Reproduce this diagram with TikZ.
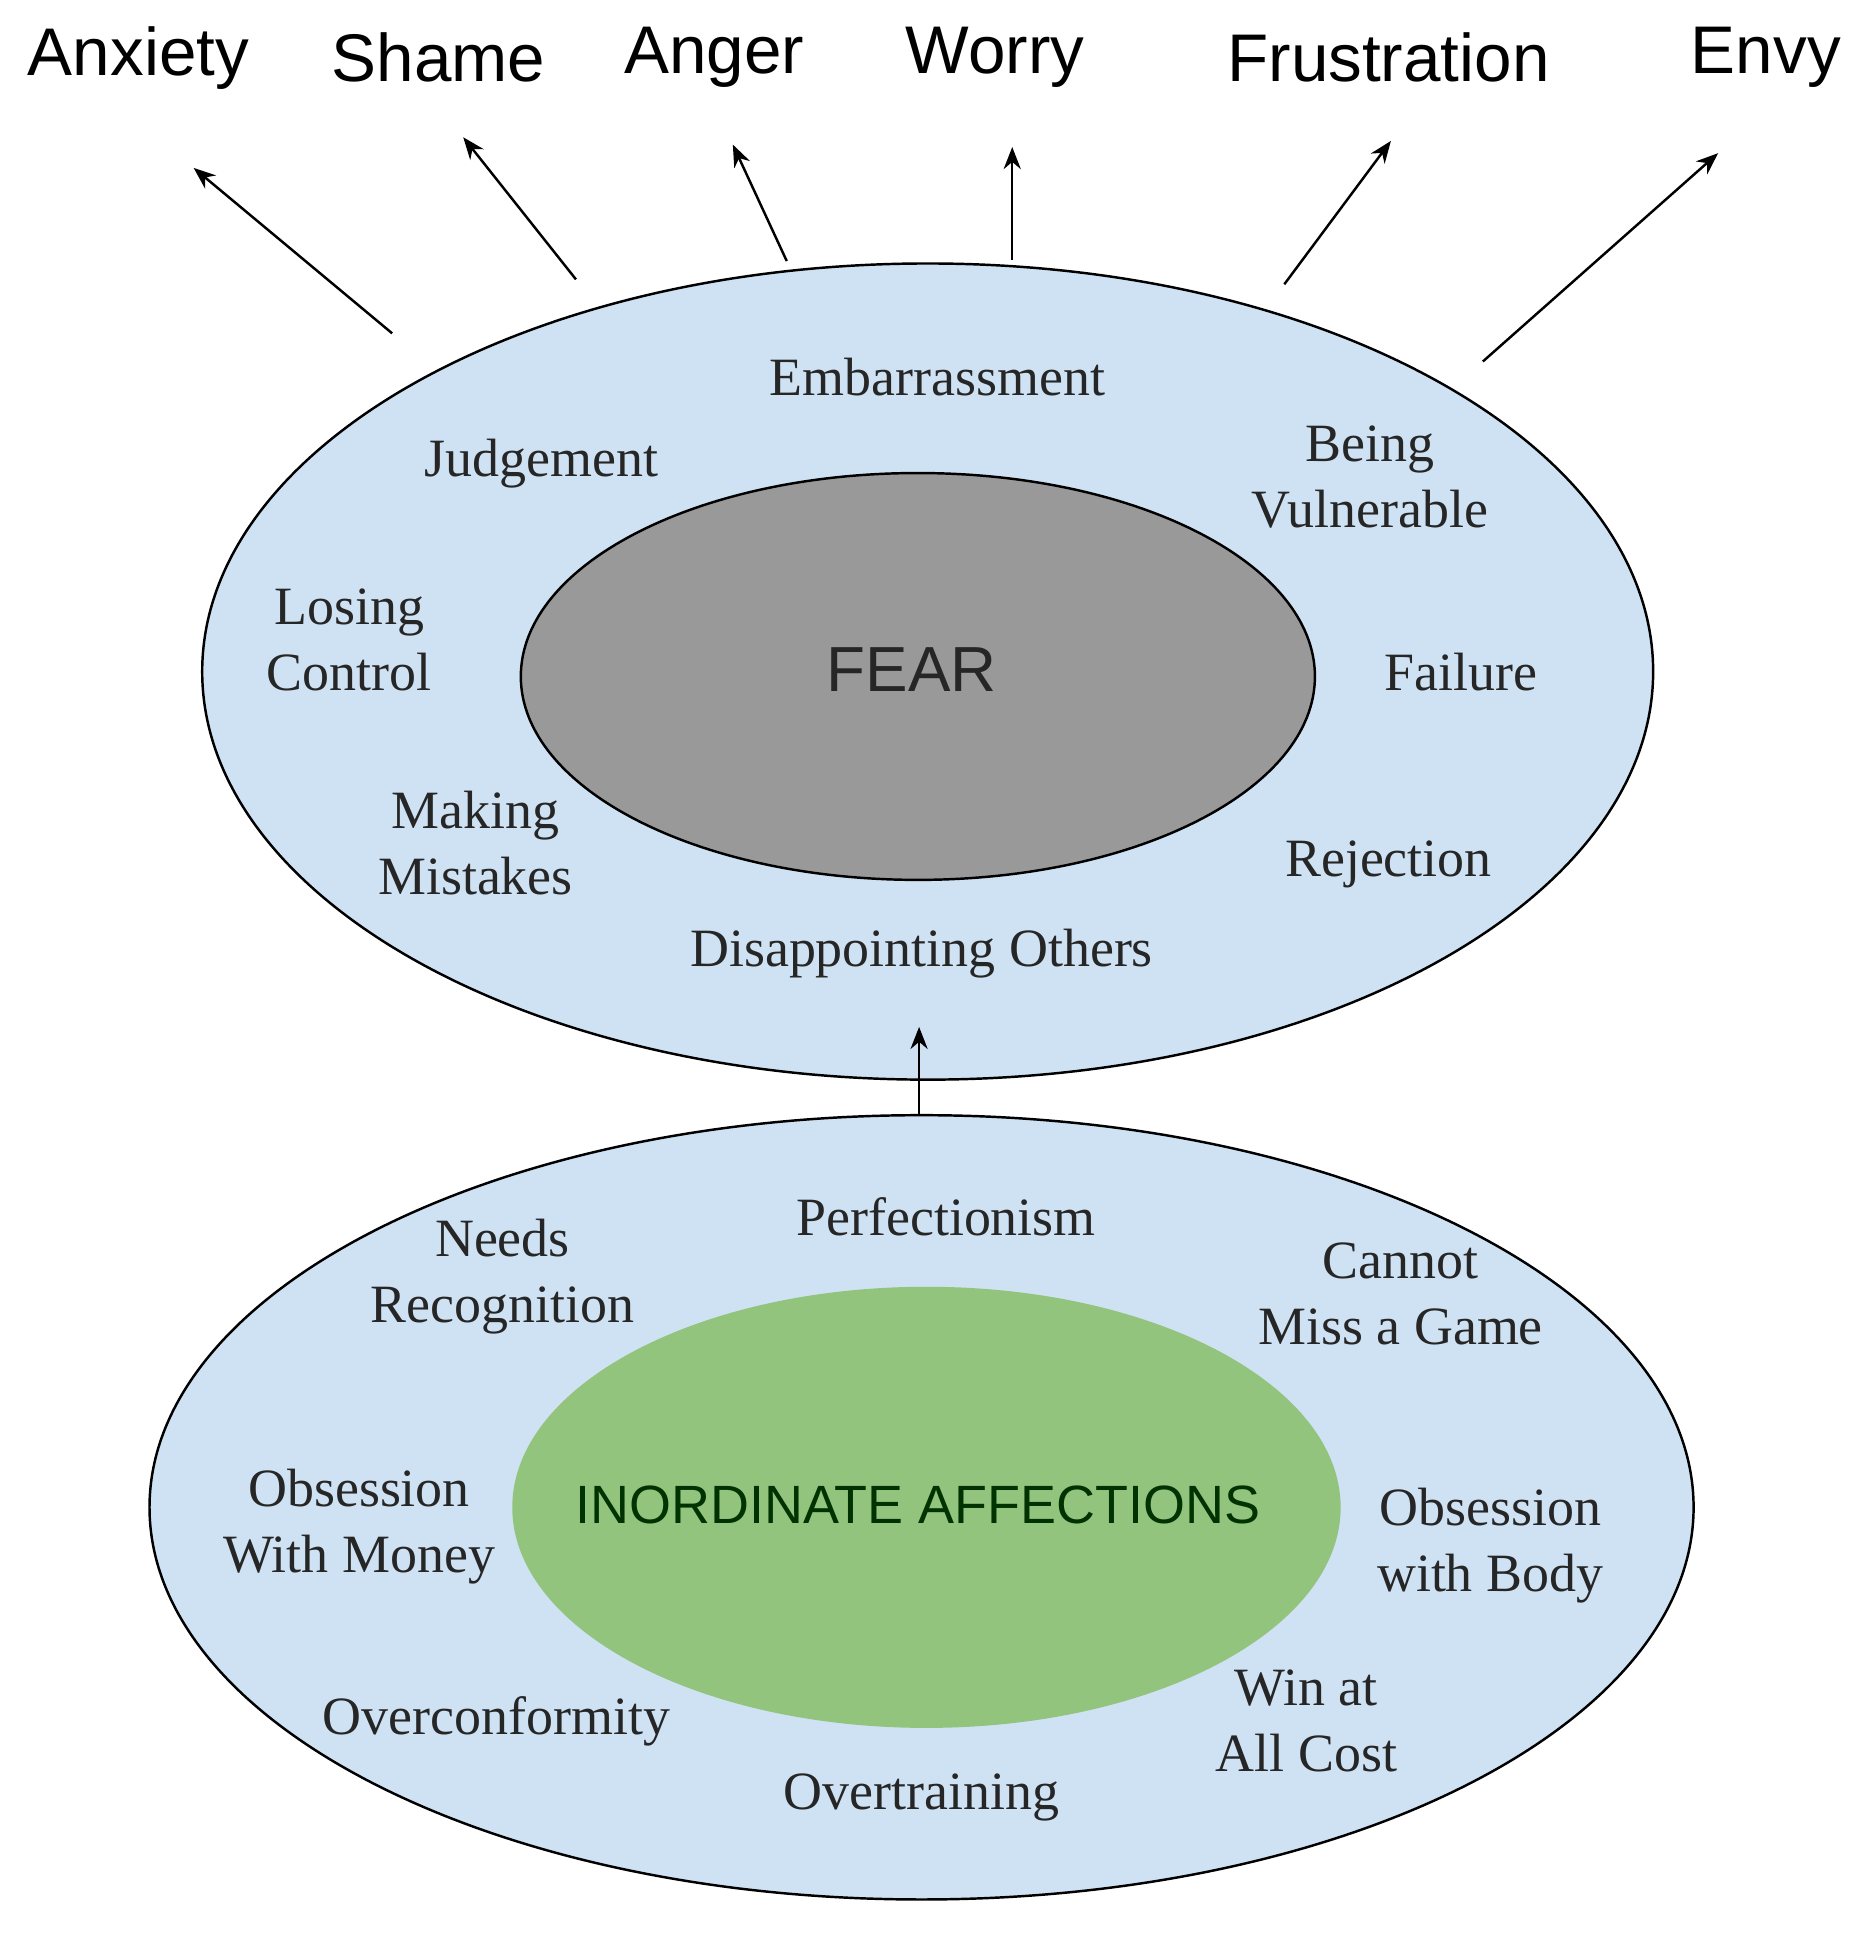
\documentclass[tikz,border=0pt]{standalone}
\usepackage{fontspec}
\setmainfont{Liberation Serif}
\newfontfamily\sansf{Liberation Sans}
\definecolor{lblue}{HTML}{CFE2F3}
\definecolor{fgray}{HTML}{999999}
\definecolor{fgreen}{HTML}{93C47D}
\begin{document}
\begin{tikzpicture}[x=0.5pt,y=-0.5pt,
  ell/.style={draw=black,line width=1pt},
  it/.style={font=\fontsize{22}{27}\selectfont,align=center,text=black!85},
  top/.style={font=\sansf\fontsize{27.5}{32}\selectfont},
  arr/.style={-{Stealth[length=9pt,width=7pt]},line width=1pt}]
\useasboundingbox (0,0) rectangle (1530,1579);
\fill[white] (0,0) rectangle (1530,1579);
\usetikzlibrary{arrows.meta}
\draw[ell,fill=lblue] (757,548) ellipse [x radius=592,y radius=333];
\draw[ell,fill=fgray] (749,552) ellipse [x radius=324,y radius=166];
\draw[ell,fill=lblue] (752,1230) ellipse [x radius=630,y radius=320];
\fill[fgreen] (756,1230) ellipse [x radius=338,y radius=180];
\node[font=\sansf\fontsize{26}{30}\selectfont,text=black!85] (fear) at (744,546) {FEAR};
\node[font=\sansf\fontsize{22}{26}\selectfont,text=black!80!green] (ia) at (749,1228) {INORDINATE AFFECTIONS};
\node[it] (t1) at (765,308) {Embarrassment};
\node[it] (t2) at (442,378) {Judgement};
\node[it] (t3) at (1118,389) {Being\\Vulnerable};
\node[it] (t4) at (285,522) {Losing\\Control};
\node[it] (t5) at (1192,548) {Failure};
\node[it] (t6) at (388,688) {Making\\Mistakes};
\node[it] (t7) at (1133,705) {Rejection};
\node[it] (t8) at (752,778) {Disappointing Others};
\node[it] (b1) at (772,993) {Perfectionism};
\node[it] (b2) at (410,1042) {Needs\\Recognition};
\node[it] (b3) at (1143,1056) {Cannot\\Miss a Game};
\node[it] (b4) at (293,1246) {Obsession\\With Money};
\node[it] (b5) at (1216,1261) {Obsession\\with Body};
\node[it] (b6) at (1066,1404) {Win at\\All Cost};
\node[it] (b7) at (405,1405) {Overconformity};
\node[it] (b8) at (752,1467) {Overtraining};
\node[top] (l1) at (113,47) {Anxiety};
\node[top] (l2) at (358,47) {Shame};
\node[top] (l3) at (583,47) {Anger};
\node[top] (l4) at (812,47) {Worry};
\node[top] (l5) at (1133,47) {Frustration};
\node[top] (l6) at (1441,47) {Envy};
\coordinate (s1) at (320,272); \coordinate (e1) at (158,137);
\coordinate (s2) at (470,228); \coordinate (e2) at (378,112);
\coordinate (s3) at (642,213); \coordinate (e3) at (598,118);
\coordinate (s4) at (826,212); \coordinate (e4) at (826,120);
\coordinate (s5) at (1048,232); \coordinate (e5) at (1135,115);
\coordinate (s6) at (1210,295); \coordinate (e6) at (1402,125);
\coordinate (s7) at (750,910); \coordinate (e7) at (750,838);
\foreach \i in {1,...,7} {\draw[arr] (s\i) -- (e\i);}
\end{tikzpicture}
\end{document}
